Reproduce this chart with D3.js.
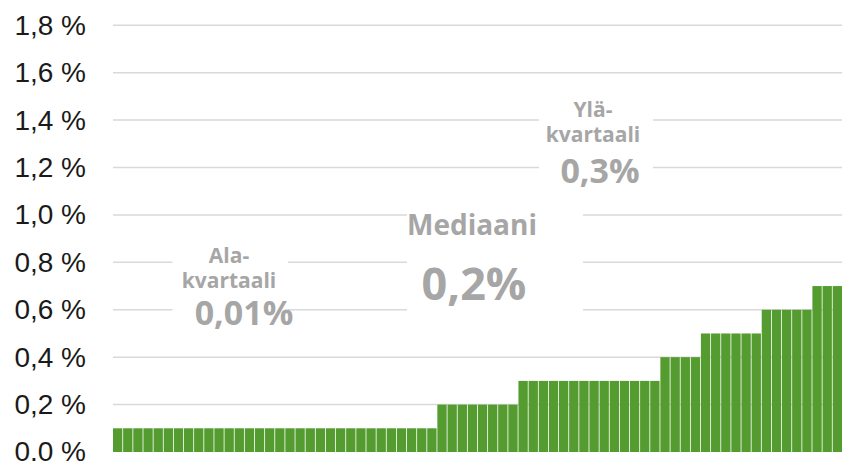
<!DOCTYPE html>
<html>
<head>
<meta charset="utf-8">
<script src="https://cdn.jsdelivr.net/npm/d3@7"></script>
<style>
	body { margin: 0; background: #fff; }
	svg { display: block; }
</style>
</head>
<body>
<svg id="chart" width="842" height="462"></svg>
<script>
// values per bar, sorted ascending (percent)
const values = [
	0.1, 0.1, 0.1, 0.1, 0.1, 0.1, 0.1, 0.1, 0.1, 0.1,
	0.1, 0.1, 0.1, 0.1, 0.1, 0.1, 0.1, 0.1, 0.1, 0.1,
	0.1, 0.1, 0.1, 0.1, 0.1, 0.1, 0.1, 0.1, 0.1, 0.1,
	0.1, 0.1,
	0.2, 0.2, 0.2, 0.2, 0.2, 0.2, 0.2, 0.2,
	0.3, 0.3, 0.3, 0.3, 0.3, 0.3, 0.3, 0.3, 0.3, 0.3,
	0.3, 0.3, 0.3, 0.3,
	0.4, 0.4, 0.4, 0.4,
	0.5, 0.5, 0.5, 0.5, 0.5, 0.5,
	0.6, 0.6, 0.6, 0.6, 0.6,
	0.7, 0.7, 0.7
];
const categories = values.map((d, i) => i + 1);

const tickValues = [0, 0.2, 0.4, 0.6, 0.8, 1.0, 1.2, 1.4, 1.6, 1.8];
const tickLabels = ["0.0 %", "0,2 %", "0,4 %", "0,6 %", "0,8 %", "1,0 %", "1,2 %", "1,4 %", "1,6 %", "1,8 %"];

const noteTitles = [["Ala-", "kvartaali"], ["Mediaani"], ["Ylä-", "kvartaali"]];
const noteValues = ["0,01%", "0,2%", "0,3%"];

const svg = d3.select("#chart");
const width = +svg.attr("width");

const x = d3.scaleBand()
	.domain(categories)
	.range([113, width])
	.paddingInner(0.08)
	.paddingOuter(0);

const y = d3.scaleLinear()
	.domain([0, 1.8])
	.range([452, 25.3]);

// gridlines
svg.append("g")
	.selectAll("line")
	.data(tickValues.filter(d => d > 0))
	.join("line")
	.attr("x1", 113)
	.attr("x2", width)
	.attr("y1", d => y(d))
	.attr("y2", d => y(d))
	.style("stroke", "#d9d9d9")
	.style("stroke-width", 1.5);

// y axis labels
const axis = d3.axisLeft(y)
	.tickValues(tickValues)
	.tickFormat((d, i) => tickLabels[i])
	.tickSize(0)
	.tickPadding(0);

const axisG = svg.append("g")
	.attr("transform", "translate(86,0)")
	.call(axis);
axisG.select(".domain").remove();
axisG.selectAll("text")
	.style("font-family", "'Liberation Sans', Arial, sans-serif")
	.style("font-size", "28px")
	.style("fill", "#1a1a1a");

// bars
svg.append("g")
	.selectAll("rect")
	.data(values)
	.join("rect")
	.attr("x", (d, i) => x(categories[i]))
	.attr("width", x.bandwidth())
	.attr("y", d => y(d))
	.attr("height", d => y(0) - y(d))
	.style("fill", "#549c2f");

// annotation boxes (white backgrounds cut the gridlines)
// anchor: [box left idx, box right idx, top value, bottom value]
const boxes = [
	{ x0: 172.5, x1: 288, top: 0.95, bottom: 0.47, cx: 229, titleY: 263, valX: 244, valY: 325, tSize: 21, vSize: 34 },
	{ x0: 407, x1: 583, top: 1.07, bottom: 0.49, cx: 472, titleY: 235, valX: 474, valY: 300, tSize: 28, vSize: 45 },
	{ x0: 539, x1: 653, top: 1.53, bottom: 1.10, cx: 593, titleY: 117, valX: 600, valY: 183, tSize: 21, vSize: 34 }
];

const notes = svg.append("g")
	.selectAll("g")
	.data(boxes)
	.join("g");

notes.append("rect")
	.attr("x", d => d.x0)
	.attr("width", d => d.x1 - d.x0)
	.attr("y", d => y(d.top))
	.attr("height", d => y(d.bottom) - y(d.top))
	.style("fill", "#fff");

notes.each(function(d, i) {
	const g = d3.select(this);
	noteTitles[i].forEach((line, j) => {
		g.append("text")
			.attr("x", d.cx)
			.attr("y", d.titleY + j * 25)
			.attr("text-anchor", "middle")
			.style("font-family", "'Open Sans', sans-serif")
			.style("font-weight", 700)
			.style("font-size", d.tSize + "px")
			.style("fill", "#a6a6a6")
			.text(line);
	});
	g.append("text")
		.attr("x", d.valX)
		.attr("y", d.valY)
		.attr("text-anchor", "middle")
		.style("font-family", "'Open Sans', sans-serif")
		.style("font-weight", 700)
		.style("font-size", d.vSize + "px")
		.style("fill", "#a6a6a6")
		.text(noteValues[i]);
});
</script>
</body>
</html>
